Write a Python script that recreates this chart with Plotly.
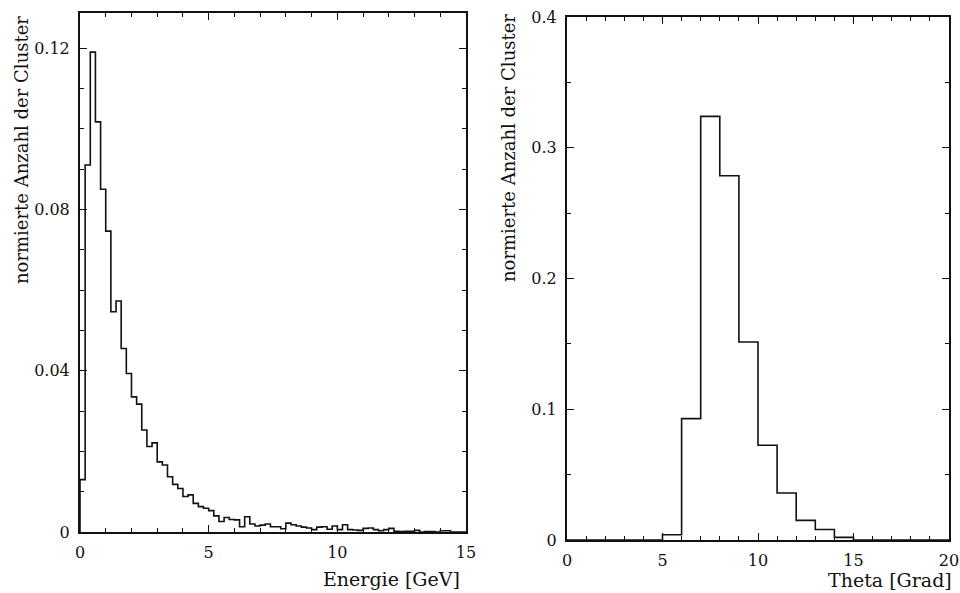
import plotly.graph_objects as go

# Energie-Verteilung, Bins 0.2 GeV von 0 bis 15 GeV
energie_binbreite = 0.2
energie_werte = [
    0.013, 0.091, 0.119, 0.1017, 0.085, 0.0746, 0.0546, 0.0573, 0.0455, 0.0393,
    0.0335, 0.0317, 0.0253, 0.0212, 0.0221, 0.0174, 0.0166, 0.0137, 0.0118, 0.0108,
    0.0088, 0.0092, 0.0071, 0.0063, 0.0059, 0.0053, 0.0040, 0.0026, 0.0036, 0.0031,
    0.0030, 0.0013, 0.0038, 0.0020, 0.0015, 0.0017, 0.0020, 0.0013,
    0.0013, 0.0008, 0.0022, 0.0018, 0.0015, 0.0012, 0.0010, 0.0006, 0.0012, 0.0013,
    0.0007, 0.0015, 0.0006, 0.0018, 0.0006, 0.0005, 0.0004, 0.0009, 0.0010, 0.0006,
    0.0003, 0.0006, 0.0009, 0.0002, 0.0001, 0.0002, 0.0002, 0.0004, 0.0, 0.0001,
    0.0001, 0.0, 0.0003, 0.0003, 0.0, 0.0, 0.0,
]

# Theta-Verteilung, Bins 1 Grad von 0 bis 20 Grad
theta_binbreite = 1.0
theta_werte = [
    0.0, 0.0, 0.0, 0.0, 0.0, 0.004, 0.0928, 0.324, 0.2786, 0.1514,
    0.0725, 0.036, 0.015, 0.008, 0.002, 0.0, 0.0, 0.0, 0.0, 0.0,
]

energie_ticks = [0, 5, 10, 15]
energie_ticktext = ["0", "5", "10", "15"]
anzahl1_ticks = [0, 0.04, 0.08, 0.12]
anzahl1_ticktext = ["0", "0.04", "0.08", "0.12"]
theta_ticks = [0, 5, 10, 15, 20]
theta_ticktext = ["0", "5", "10", "15", "20"]
anzahl2_ticks = [0, 0.1, 0.2, 0.3, 0.4]
anzahl2_ticktext = ["0", "0.1", "0.2", "0.3", "0.4"]


def stufen(werte, breite):
    # Histogramm-Umriss: Kanten + letzter Wert wiederholt
    xs = [i * breite for i in range(len(werte) + 1)]
    ys = list(werte) + [0]
    return [0] + xs, [0] + ys


SCHRIFT = "DejaVu Serif"
farbe = "#111111"

fig = go.Figure()

x1, y1 = stufen(energie_werte, energie_binbreite)
fig.add_trace(go.Scatter(x=x1, y=y1, mode="lines", line=dict(shape="hv", color=farbe, width=1.6),
                         xaxis="x", yaxis="y", showlegend=False, hoverinfo="skip"))

x2, y2 = stufen(theta_werte, theta_binbreite)
fig.add_trace(go.Scatter(x=x2, y=y2, mode="lines", line=dict(shape="hv", color=farbe, width=1.6),
                         xaxis="x2", yaxis="y2", showlegend=False, hoverinfo="skip"))

W, H = 960, 593


def achse(domain, rng, vals, text, minor_dtick, lang=7):
    return dict(
        domain=domain, range=rng, tickmode="array", tickvals=vals, ticktext=text,
        ticks="inside", ticklen=lang, tickwidth=1.3, tickcolor=farbe,
        minor=dict(dtick=minor_dtick, ticks="inside", ticklen=4, tickwidth=1.1, tickcolor=farbe),
        showline=True, linecolor=farbe, linewidth=2, mirror="allticks",
        showgrid=False, zeroline=False, automargin=False,
        tickfont=dict(family=SCHRIFT, size=16, color=farbe), ticklabelstandoff=5,
        ticklabeloverflow="allow",
    )


fig.update_layout(
    width=W, height=H,
    margin=dict(l=0, r=0, t=0, b=0),
    paper_bgcolor="white", plot_bgcolor="white",
    xaxis=achse([80 / W, 466 / W], [0, 15], energie_ticks, energie_ticktext, 1),
    yaxis=achse([1 - 532 / H, 1 - 13 / H], [0, 0.1287], anzahl1_ticks, anzahl1_ticktext, 0.01),
    xaxis2=achse([567 / W, 949 / W], [0, 20], theta_ticks, theta_ticktext, 1),
    yaxis2=achse([1 - 540 / H, 1 - 17 / H], [0, 0.4], anzahl2_ticks, anzahl2_ticktext, 0.05),
)
fig.layout.xaxis.anchor = "y"
fig.layout.yaxis.anchor = "x"
fig.layout.xaxis2.anchor = "y2"
fig.layout.yaxis2.anchor = "x2"

titel_font = dict(family=SCHRIFT, size=18, color=farbe)
x_titel_font = dict(family=SCHRIFT, size=19, color=farbe)
fig.add_annotation(text="normierte Anzahl der Cluster", textangle=-90, x=21 / W, y=1 - 150 / H,
                   xanchor="center", yanchor="middle",
                   xref="paper", yref="paper", showarrow=False, font=titel_font)
fig.add_annotation(text="normierte Anzahl der Cluster", textangle=-90, x=508 / W, y=1 - 148 / H,
                   xanchor="center", yanchor="middle",
                   xref="paper", yref="paper", showarrow=False, font=titel_font)
fig.add_annotation(text="Energie [GeV]", x=462 / W, y=1 - 579 / H, xanchor="right", yanchor="middle",
                   xref="paper", yref="paper", showarrow=False, font=x_titel_font)
fig.add_annotation(text="Theta [Grad]", x=954 / W, y=1 - 580 / H, xanchor="right", yanchor="middle",
                   xref="paper", yref="paper", showarrow=False, font=x_titel_font)

fig.write_html("out.html", config={"displayModeBar": False},
               post_script="document.body.style.margin='0';")
